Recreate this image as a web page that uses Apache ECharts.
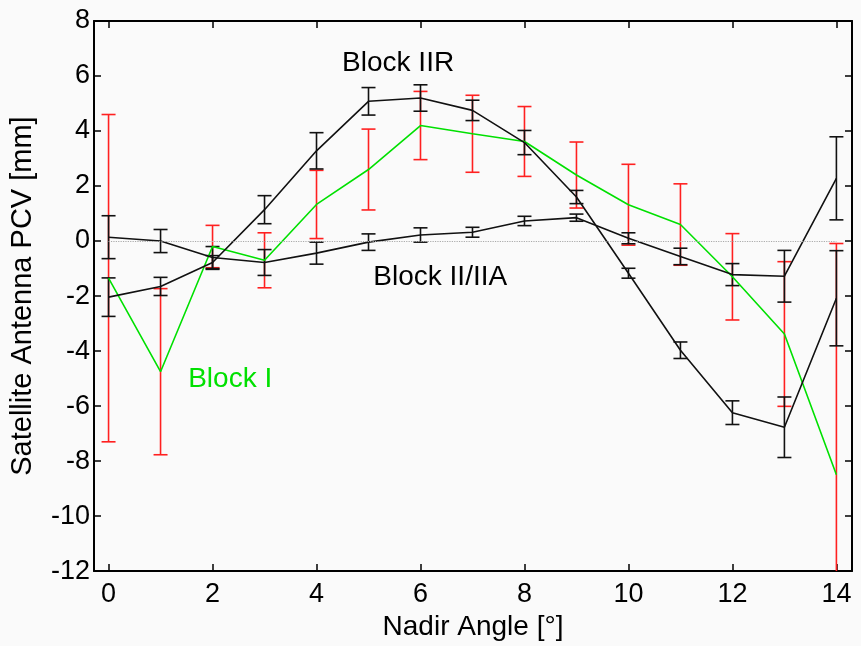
<!DOCTYPE html>
<html>
<head>
<meta charset="utf-8">
<script src="https://cdn.jsdelivr.net/npm/echarts@6/dist/echarts.min.js"></script>
<style>
  html, body { margin: 0; padding: 0; background: #fafafa; }
  #chart { width: 861px; height: 646px; }
</style>
</head>
<body>
<div id="chart"></div>
<script>
const nadir = [0, 1, 2, 3, 4, 5, 6, 7, 8, 9, 10, 11, 12, 13, 14];
const xTicks = [0, 2, 4, 6, 8, 10, 12, 14];

// Block I (green, red error bars)
const blockIMean = [-1.35, -4.75, -0.2, -0.7, 1.33, 2.6, 4.2, 3.9, 3.62, 2.4, 1.32, 0.6, -1.3, -3.38, -8.5];
const blockIErr = [5.95, 3.02, 0.77, 1.0, 1.24, 1.47, 1.24, 1.4, 1.27, 1.2, 1.47, 1.48, 1.57, 2.63, 8.41];

// Block II/IIA (black)
const blockIIMean = [0.14, 0.0, -0.6, -0.78, -0.44, -0.04, 0.22, 0.32, 0.73, 0.85, 0.1, -0.56, -1.22, -1.28, 2.28];
const blockIIErr = [0.78, 0.42, 0.4, 0.47, 0.4, 0.3, 0.26, 0.18, 0.17, 0.13, 0.2, 0.3, 0.4, 0.94, 1.51];

// Block IIR (black)
const blockIIRMean = [-2.04, -1.65, -0.78, 1.14, 3.28, 5.08, 5.2, 4.75, 3.58, 1.6, -1.17, -3.97, -6.24, -6.77, -2.08];
const blockIIRErr = [0.7, 0.33, 0.25, 0.51, 0.66, 0.5, 0.48, 0.37, 0.44, 0.24, 0.18, 0.3, 0.43, 1.1, 1.73];

const labelNames = ['Block IIR', 'Block II/IIA', 'Block I'];
const labelPos = [[5.57, 6.48], [6.38, -1.32], [2.34, -5.02]];
const labelColors = ['#000', '#000', '#00e000'];

const font = 'Liberation Sans, Arial, sans-serif';

function pairs(mean) {
  return nadir.map((x, i) => [x, mean[i]]);
}

function bars(mean, err) {
  return nadir.map((x, i) => [x, mean[i] - err[i], mean[i] + err[i]]);
}

function errorBar(color) {
  return function (params, api) {
    const x = api.value(0);
    const top = api.coord([x, api.value(2)]);
    const bottom = api.coord([x, api.value(1)]);
    const cs = params.coordSys;
    const yMax = cs.y + cs.height;
    const w = 7;
    const style = { stroke: color, lineWidth: 1.6 };
    const children = [
      { type: 'line', shape: { x1: top[0], y1: top[1], x2: top[0], y2: Math.min(bottom[1], yMax) }, style },
      { type: 'line', shape: { x1: top[0] - w, y1: top[1], x2: top[0] + w, y2: top[1] }, style },
    ];
    if (bottom[1] <= yMax) {
      children.push({ type: 'line', shape: { x1: bottom[0] - w, y1: bottom[1], x2: bottom[0] + w, y2: bottom[1] }, style });
    }
    return { type: 'group', children };
  };
}

function textItem(params, api) {
  const p = api.coord([api.value(0), api.value(1)]);
  const i = params.dataIndex;
  return {
    type: 'text',
    x: p[0],
    y: p[1],
    style: {
      text: labelNames[i],
      fill: labelColors[i],
      font: '28px ' + font,
      align: 'center',
      verticalAlign: 'middle',
    },
  };
}

const chart = echarts.init(document.getElementById('chart'));
const axisLine = { show: true, onZero: false, lineStyle: { color: '#000', width: 2 } };
const tickStyle = { color: '#000', width: 1.5 };

chart.setOption({
  backgroundColor: '#fafafa',
  animation: false,
  grid: { left: 94, right: 9, top: 21, bottom: 68, show: false },
  xAxis: [{
    type: 'value',
    min: -0.28,
    max: 14.3,
    name: 'Nadir Angle [°]',
    nameLocation: 'middle',
    nameGap: 37,
    nameTextStyle: { fontFamily: font, fontSize: 28, color: '#000' },
    axisLine,
    axisTick: { show: true, inside: true, length: 7, customValues: xTicks, lineStyle: tickStyle },
    axisLabel: { customValues: xTicks, margin: 10, fontFamily: font, fontSize: 27, color: '#000' },
    splitLine: { show: false },
  }, {
    type: 'value',
    position: 'top',
    min: -0.28,
    max: 14.3,
    axisLine,
    axisTick: { show: true, inside: true, length: 7, customValues: xTicks, lineStyle: tickStyle },
    axisLabel: { show: false },
    splitLine: { show: false },
  }],
  yAxis: [{
    type: 'value',
    min: -12,
    max: 8,
    interval: 2,
    name: 'Satellite Antenna PCV [mm]',
    nameLocation: 'middle',
    nameGap: 57,
    nameTextStyle: { fontFamily: font, fontSize: 29, color: '#000' },
    axisLine,
    axisTick: { show: true, inside: true, length: 7, lineStyle: tickStyle },
    axisLabel: { margin: 4, fontFamily: font, fontSize: 27, color: '#000' },
    splitLine: { show: false },
  }, {
    type: 'value',
    position: 'right',
    min: -12,
    max: 8,
    interval: 2,
    axisLine,
    axisTick: { show: true, inside: true, length: 7, lineStyle: tickStyle },
    axisLabel: { show: false },
    splitLine: { show: false },
  }],
  series: [
    {
      type: 'custom',
      name: 'Block I err',
      renderItem: errorBar('#ff2020'),
      data: bars(blockIMean, blockIErr),
      z: 2,
    },
    {
      type: 'custom',
      name: 'Block II err',
      renderItem: errorBar('#111'),
      data: bars(blockIIMean, blockIIErr),
      z: 3,
    },
    {
      type: 'custom',
      name: 'Block IIR err',
      renderItem: errorBar('#111'),
      data: bars(blockIIRMean, blockIIRErr),
      z: 3,
    },
    {
      type: 'line',
      name: 'Block I',
      data: pairs(blockIMean),
      symbol: 'none',
      lineStyle: { color: '#00e000', width: 1.6 },
      z: 4,
      markLine: {
        silent: true,
        symbol: 'none',
        label: { show: false },
        lineStyle: { color: '#aaa', type: 'dotted', width: 1.2 },
        data: [[{ coord: [0, 0] }, { coord: [14, 0] }]],
      },
    },
    {
      type: 'line',
      name: 'Block II/IIA',
      data: pairs(blockIIMean),
      symbol: 'none',
      lineStyle: { color: '#111', width: 1.6 },
      z: 4,
    },
    {
      type: 'line',
      name: 'Block IIR',
      data: pairs(blockIIRMean),
      symbol: 'none',
      lineStyle: { color: '#111', width: 1.6 },
      z: 4,
    },
    {
      type: 'custom',
      name: 'labels',
      silent: true,
      renderItem: textItem,
      data: labelPos,
      z: 5,
    },
  ],
});
</script>
</body>
</html>
